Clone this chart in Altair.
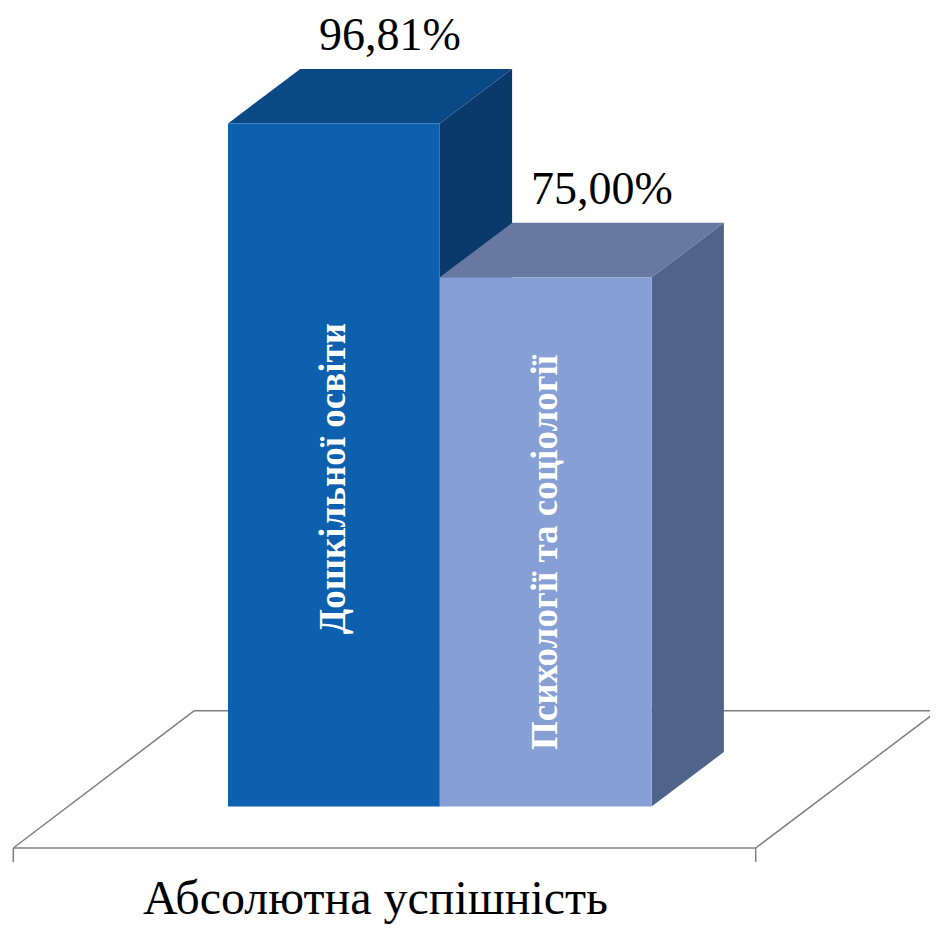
import altair as alt
import pandas as pd

# ---- data ----
categories = ["Дошкільної освіти", "Психології та соціології"]
values = [96.81, 75.00]
axis_label = "Абсолютна успішність"

# ---- styles ----
front_colors = ["#0D60AE", "#86A0D5"]
top_colors = ["#0A4985", "#6779A0"]
side_colors = ["#093A6B", "#50638A"]
floor_color = "#7F7F7F"
FONT = "Liberation Serif"

# ---- layout (plot area == whole chart) ----
W, H = 922, 917
PX_X = 211.8      # pixels per bar width unit
PX_Y = 7.056      # pixels per percent
X0 = 220.0        # pixel of x = 0
Y0 = 798.5        # pixel of value = 0
x_dom = [-X0 / PX_X, (W - X0) / PX_X]
y_dom = [(Y0 - H) / PX_Y, Y0 / PX_Y]
DX = 72.3 / PX_X  # depth offset, x units
DY = 54.5 / PX_Y  # depth offset, value units

xs = alt.Scale(domain=x_dom, nice=False, zero=False)
ys = alt.Scale(domain=y_dom, nice=False, zero=False)

def fmt(v):
    return f"{v:.2f}".replace(".", ",") + "%"

front_rows, top_rows, side_rows, txt_rows = [], [], [], []
for i, (c, v) in enumerate(zip(categories, values)):
    front_rows.append(dict(cat=c, x=i, x2=i + 1, y=v, y2=0, col=front_colors[i]))
    for (px, a, b) in [(i, v, v), (i + DX, v + DY, v), (i + 1, v + DY, v), (i + 1 + DX, v + DY, v + DY)]:
        top_rows.append(dict(cat=c, x=px, y=a, y2=b, col=top_colors[i]))
    for (px, a, b) in [(i + 1, v, 0), (i + 1 + DX, v + DY, DY)]:
        side_rows.append(dict(cat=c, x=px, y=a, y2=b, col=side_colors[i]))
    txt_rows.append(dict(cat=c, lab=fmt(v), xl=i + 0.765, yl=v + 10.4, xc=i + 0.5, yc=v * 0.48))

front_df = pd.DataFrame(front_rows)
top_df = pd.DataFrame(top_rows)
side_df = pd.DataFrame(side_rows)
txt_df = pd.DataFrame(txt_rows)

# floor (category plane) outline
FL_FY, FL_BY, FL_TY = -5.88, 13.58, -7.87
FL_FL, FL_FR, FL_BL, FL_BR = -1.0137, 2.4915, -0.159, 3.351
floor_df = pd.DataFrame([
    dict(x=FL_FL, x2=FL_FR, y=FL_FY, y2=FL_FY),
    dict(x=FL_FL, x2=FL_BL, y=FL_FY, y2=FL_BY),
    dict(x=FL_BL, x2=FL_BR, y=FL_BY, y2=FL_BY),
    dict(x=FL_FR, x2=FL_BR, y=FL_FY, y2=FL_BY),
    dict(x=FL_FL, x2=FL_FL, y=FL_FY, y2=FL_TY),
    dict(x=FL_FR, x2=FL_FR, y=FL_FY, y2=FL_TY),
])
title_df = pd.DataFrame([dict(t=axis_label, x=(FL_FL + FL_FR) / 2, y=FL_FY - 66 / PX_Y)])

floor = alt.Chart(floor_df).mark_rule(color=floor_color, strokeWidth=1.5).encode(
    x=alt.X("x:Q", scale=xs, axis=None), x2="x2:Q",
    y=alt.Y("y:Q", scale=ys, axis=None), y2="y2:Q")

sides = alt.Chart(side_df).mark_area(orient="vertical").encode(
    x=alt.X("x:Q", scale=xs, axis=None),
    y=alt.Y("y:Q", scale=ys, axis=None), y2="y2:Q",
    color=alt.Color("col:N", scale=None), detail="cat:N")

tops = alt.Chart(top_df).mark_area(orient="vertical").encode(
    x=alt.X("x:Q", scale=xs, axis=None),
    y=alt.Y("y:Q", scale=ys, axis=None), y2="y2:Q",
    color=alt.Color("col:N", scale=None), detail="cat:N")

fronts = alt.Chart(front_df).mark_rect().encode(
    x=alt.X("x:Q", scale=xs, axis=None), x2="x2:Q",
    y=alt.Y("y:Q", scale=ys, axis=None), y2="y2:Q",
    color=alt.Color("col:N", scale=None))

val_text = alt.Chart(txt_df).mark_text(font=FONT, fontSize=46, color="black",
                                       align="center", baseline="alphabetic").encode(
    x=alt.X("xl:Q", scale=xs, axis=None), y=alt.Y("yl:Q", scale=ys, axis=None), text="lab:N")

cat_text = alt.Chart(txt_df).mark_text(font=FONT, fontSize=37, fontWeight="bold", color="white",
                                       angle=270, align="center", baseline="middle").encode(
    x=alt.X("xc:Q", scale=xs, axis=None), y=alt.Y("yc:Q", scale=ys, axis=None), text="cat:N")

title_text = alt.Chart(title_df).mark_text(font=FONT, fontSize=48, color="black",
                                           align="center", baseline="alphabetic", dx=-9).encode(
    x=alt.X("x:Q", scale=xs, axis=None), y=alt.Y("y:Q", scale=ys, axis=None), text="t:N")

chart = alt.layer(floor, sides, tops, fronts, val_text, cat_text, title_text).properties(
    width=W, height=H, padding=0, autosize=alt.AutoSizeParams(type="none"),
    background="white"
).configure_view(stroke=None)

chart.save("out.html", embed_options={"renderer": "svg", "actions": False})
